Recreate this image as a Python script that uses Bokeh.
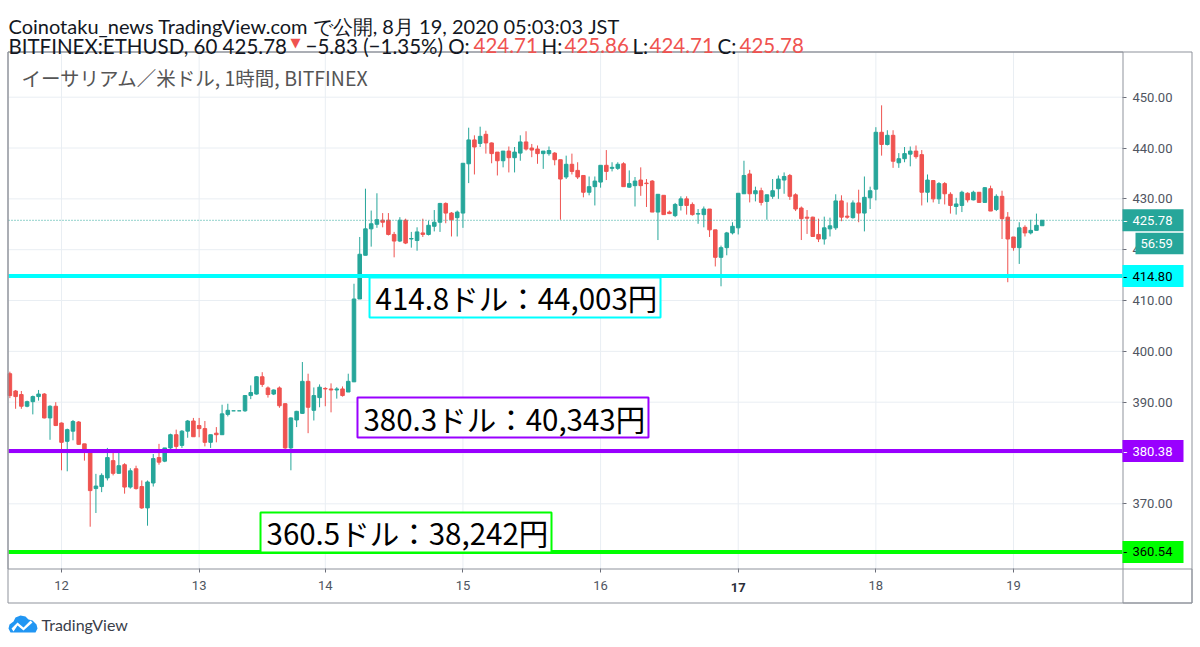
from bokeh.plotting import figure
from bokeh.models import (Range1d, Label, BoxAnnotation, PolyAnnotation,
                          PrintfTickFormatter, ColumnDataSource)
from bokeh.embed import file_html
from bokeh.resources import INLINE

# ---------------- data (1h candles, BITFINEX:ETHUSD, JST) ----------------
opens = [
    395.6, 392.2, 391.5, 389.2, 390.1, 391.1, 391.6, 386.9, 389.2, 385.9,
    382.3, 384.3, 386.1, 381.8, 380.5, 373.0, 373.4, 375.1, 378.5, 376.0,
    377.7, 373.3, 376.9, 373.4, 369.2, 374.1, 379.1, 378.4, 381.0, 383.6,
    381.5, 384.3, 386.3, 385.4, 384.8, 382.1, 383.9, 383.6, 387.6, 388.3,
    388.3, 388.3, 391.3, 391.6, 395.0, 392.8, 391.6, 392.8, 389.7, 381.0,
    386.5, 387.8, 394.1, 388.4, 390.9, 392.7, 392.6, 392.4, 392.6, 392.0,
    394.0, 410.3, 418.9, 424.1, 425.0, 425.8, 425.8, 423.0, 421.7, 425.8,
    422.1, 421.8, 423.3, 423.0, 424.6, 425.4, 429.1, 427.2, 426.3, 427.2,
    436.9, 441.6, 440.9, 442.7, 441.0, 439.2, 437.5, 439.4, 438.1, 439.0,
    441.2, 440.0, 439.8, 438.9, 438.9, 439.0, 437.7, 434.3, 436.8, 435.6,
    434.6, 431.3, 432.4, 433.3, 436.6, 436.0, 436.0, 436.9, 432.3, 432.6,
    433.7, 433.1, 433.5, 427.4, 430.7, 427.4, 426.7, 428.7, 430.0, 428.9,
    427.0, 426.9, 428.0, 423.9, 418.5, 420.4, 423.3, 424.3, 431.0, 434.9,
    431.0, 431.6, 429.5, 430.5, 432.0, 433.7, 434.6, 430.8, 428.2, 426.4,
    426.4, 423.0, 422.1, 424.1, 424.3, 429.6, 426.6, 426.3, 429.2, 427.2,
    430.2, 431.9, 443.1, 440.7, 442.5, 437.1, 437.9, 438.8, 439.4, 438.7,
    431.3, 433.6, 430.0, 433.0, 430.9, 428.5, 428.7, 431.1, 429.8, 431.3,
    429.3, 432.0, 427.9, 430.5, 426.4, 422.5, 420.4, 424.4, 423.3, 423.8,
    424.71]
highs = [
    396.0, 392.4, 392.2, 390.3, 391.3, 392.4, 391.8, 389.4, 390.0, 386.0,
    384.8, 386.5, 386.3, 381.8, 380.6, 375.9, 376.0, 381.0, 380.2, 380.0,
    378.0, 377.0, 377.5, 374.6, 374.6, 379.8, 381.8, 381.0, 383.8, 384.6,
    384.5, 386.5, 386.9, 386.9, 386.3, 383.6, 385.1, 389.5, 389.7, 388.3,
    388.3, 391.4, 393.3, 395.1, 395.9, 393.1, 392.5, 393.1, 389.8, 387.0,
    388.3, 397.9, 395.6, 392.9, 393.5, 392.95, 393.7, 392.95, 393.1, 395.6,
    413.3, 422.5, 432.0, 427.7, 431.1, 427.2, 427.2, 423.5, 426.4, 426.1,
    423.5, 424.4, 426.1, 425.7, 427.8, 429.2, 429.3, 427.4, 427.7, 437.0,
    444.0, 442.5, 444.2, 443.4, 441.1, 439.2, 439.4, 440.3, 440.2, 442.5,
    443.3, 440.8, 440.5, 439.4, 440.3, 439.2, 437.7, 438.5, 438.9, 437.2,
    434.6, 434.4, 434.4, 436.6, 439.6, 437.2, 437.2, 437.2, 435.6, 434.3,
    436.2, 433.9, 433.7, 430.9, 430.7, 427.7, 429.2, 430.5, 430.5, 429.3,
    428.0, 428.5, 428.0, 423.9, 420.8, 423.5, 425.4, 431.1, 437.5, 435.7,
    432.4, 432.2, 430.8, 433.9, 434.6, 435.2, 434.9, 431.1, 428.5, 427.8,
    426.5, 426.1, 426.5, 426.3, 430.9, 430.7, 429.3, 429.7, 431.8, 434.4,
    432.4, 444.1, 448.4, 443.5, 443.5, 439.0, 440.2, 440.3, 440.5, 439.6,
    434.8, 433.7, 433.3, 433.3, 431.3, 430.2, 431.6, 431.3, 431.6, 431.3,
    432.3, 432.6, 430.9, 431.6, 427.4, 422.5, 425.4, 424.8, 425.9, 427.1,
    425.86]
lows = [
    390.8, 388.7, 388.7, 389.0, 387.6, 390.3, 386.8, 382.6, 385.3, 376.6,
    376.4, 382.5, 381.6, 378.5, 365.5, 368.2, 372.3, 374.6, 375.6, 375.9,
    372.0, 373.0, 372.8, 369.0, 365.7, 373.4, 377.7, 378.2, 380.8, 380.8,
    381.0, 383.0, 383.2, 383.1, 381.3, 381.0, 382.1, 383.6, 387.2, 388.3,
    388.3, 388.1, 390.6, 391.5, 393.0, 390.9, 391.4, 388.9, 380.8, 376.6,
    385.1, 387.7, 383.9, 386.4, 389.0, 389.2, 388.0, 390.7, 391.1, 392.0,
    394.0, 410.3, 418.9, 420.6, 424.3, 424.4, 422.8, 418.5, 421.5, 421.1,
    420.4, 419.8, 422.5, 422.8, 423.6, 423.5, 425.2, 422.6, 422.6, 424.3,
    433.1, 434.8, 440.2, 438.9, 437.0, 434.6, 436.2, 435.2, 435.2, 437.5,
    439.5, 438.2, 436.9, 435.9, 438.5, 436.6, 425.9, 433.9, 434.8, 433.9,
    430.3, 430.7, 428.7, 432.2, 433.7, 435.4, 435.7, 432.4, 432.2, 428.5,
    430.6, 428.4, 427.4, 421.9, 426.9, 427.0, 426.4, 427.7, 426.9, 426.7,
    425.1, 424.4, 422.5, 416.7, 412.8, 418.9, 423.0, 423.0, 431.0, 429.3,
    429.5, 428.7, 425.9, 430.0, 430.0, 431.0, 429.8, 427.6, 421.9, 423.1,
    422.5, 421.5, 421.0, 422.6, 423.9, 425.6, 426.1, 426.1, 425.4, 423.6,
    428.0, 429.7, 438.5, 440.5, 436.1, 436.1, 437.2, 436.4, 437.9, 428.7,
    429.3, 429.3, 429.0, 428.9, 427.1, 426.9, 427.4, 429.3, 429.7, 429.2,
    429.2, 427.6, 427.6, 422.1, 413.6, 419.8, 417.2, 422.6, 423.0, 423.8,
    424.71]
closes = [
    391.3, 391.1, 389.2, 390.1, 391.1, 391.6, 386.9, 389.2, 385.4, 382.1,
    384.6, 386.2, 381.7, 380.5, 372.6, 373.5, 375.6, 379.1, 376.0, 377.5,
    373.3, 376.5, 373.0, 369.2, 374.3, 378.9, 378.2, 381.0, 383.6, 381.3,
    384.3, 386.3, 383.2, 384.8, 382.1, 383.6, 383.6, 387.7, 388.4, 388.3,
    388.3, 391.3, 391.9, 395.0, 393.5, 391.5, 392.4, 389.3, 381.0, 386.9,
    388.2, 394.1, 389.0, 391.3, 392.95, 392.6, 392.4, 392.6, 391.3, 394.1,
    410.3, 419.1, 424.1, 425.1, 425.9, 425.4, 423.0, 421.7, 425.8, 421.3,
    422.2, 423.5, 423.0, 424.8, 425.4, 429.1, 427.2, 425.9, 427.4, 437.0,
    441.6, 440.2, 442.3, 441.0, 438.9, 437.5, 439.4, 438.1, 439.2, 441.2,
    439.8, 439.6, 438.9, 439.4, 439.5, 437.7, 433.9, 436.8, 435.4, 434.3,
    431.3, 432.4, 433.5, 436.6, 435.4, 436.2, 436.8, 432.4, 433.0, 433.5,
    432.6, 433.0, 427.4, 430.9, 426.9, 427.1, 428.9, 430.0, 428.7, 426.9,
    427.1, 428.0, 423.9, 418.5, 420.4, 423.3, 424.6, 431.1, 434.6, 431.0,
    431.6, 429.3, 430.8, 431.6, 433.9, 434.4, 430.5, 428.0, 426.1, 426.2,
    422.6, 422.1, 424.3, 424.7, 429.6, 426.4, 426.4, 429.2, 427.2, 430.3,
    431.6, 443.1, 440.7, 442.5, 437.4, 437.9, 438.9, 439.4, 438.3, 431.3,
    433.7, 430.0, 433.0, 431.0, 428.7, 429.0, 431.3, 429.8, 431.3, 429.3,
    432.2, 427.6, 430.5, 426.1, 422.1, 420.4, 424.3, 423.3, 423.8, 424.8,
    425.78]

day_tick_bars = [9, 33, 55, 79, 103, 127, 151, 175]
day_tick_labels = ["12", "13", "14", "15", "16", "17", "18", "19"]
bold_day = "17"            # week start, printed bold
price_ticks = [370, 380, 390, 400, 410, 420, 430, 440, 450]

level_prices = [414.80, 380.38, 360.54]
level_colors = ["#00ffff", "#9900ff", "#00ff00"]
level_text_colors = ["#000000", "#ffffff", "#000000"]

note_texts = ["414.8ドル：44,003円", "380.3ドル：40,343円", "360.5ドル：38,242円"]
note_bar_pos = [62.71, 60.61, 43.70]      # left edge of each note (bar index)
note_price_top = [414.53, 390.92, 368.30]  # top edge of each note (USD)

countdown_text = "56:59"
header_line1 = "Coinotaku_news TradingView.com で公開, 8月 19, 2020 05:03:03 JST"
header_parts = [
    ("BITFINEX:ETHUSD, 60 425.78", "#131722", 8),
    ("▼", "#ef5350", 290),
    ("−5.83 (−1.35%) O:", "#131722", 305),
    ("424.71", "#ef5350", 473),
    ("H:", "#131722", 541),
    ("425.86", "#ef5350", 564),
    ("L:", "#131722", 632),
    ("424.71", "#ef5350", 649),
    ("C:", "#131722", 717),
    ("425.78", "#ef5350", 739),
]
watermark = "イーサリアム／米ドル, 1時間, BITFINEX"

# ---------------- layout calibration (pixels) ----------------
W, H = 1198, 645
PX_PER_BAR, PX_PER_USD = 5.735, 5.083
REF_BAR, REF_BAR_PX = 9, 61.0        # first bar of the 12th sits at x=61
REF_USD, REF_USD_PX = 450.0, 96.7    # 450.00 sits at y=96.7
PL, PR, PT, PB = 8, 1122, 51.5, 568   # plot area edges
BR, BB = 1191, 602                    # outer box right / bottom


def bar_at(px):
    return REF_BAR + (px - REF_BAR_PX) / PX_PER_BAR


def usd_at(py):
    return REF_USD - (py - REF_USD_PX) / PX_PER_USD


UP, DOWN = "#26a69a", "#ef5350"
GRID = "#e9eef3"
BORDER = "#8f939c"
TXT = "#4f5561"

p = figure(width=W, height=H, output_backend="svg", toolbar_location=None, title=None,
           x_range=Range1d(bar_at(0), bar_at(W)), y_range=Range1d(usd_at(H), usd_at(0)),
           y_axis_location="right", min_border=0)
p.background_fill_color = "white"
p.border_fill_color = "white"
p.outline_line_color = None
p.xgrid.visible = False
p.ygrid.visible = False

xa = p.xaxis[0]
xa.ticker = day_tick_bars
xa.major_label_overrides = {b: ("" if t == bold_day else t)
                            for b, t in zip(day_tick_bars, day_tick_labels)}
xa.fixed_location = usd_at(PB)
ya = p.yaxis[0]
ya.ticker = price_ticks
ya.formatter = PrintfTickFormatter(format="%.2f")
ya.fixed_location = bar_at(PR)
for ax, standoff in ((xa, 8), (ya, 6)):
    ax.major_tick_in = 0
    ax.major_tick_out = 4
    ax.minor_tick_line_color = None
    ax.major_tick_line_color = "#6a6d78"
    ax.axis_line_color = None
    ax.major_label_standoff = standoff
    ax.major_label_text_font = "Roboto"
    ax.major_label_text_font_size = "13px"
    ax.major_label_text_color = TXT

X0, X1 = bar_at(PL), bar_at(PR)
Y_TOP, Y_BOT = usd_at(PT), usd_at(PB)

# grid lines limited to the plot area
p.segment(x0=day_tick_bars, x1=day_tick_bars, y0=[Y_BOT] * len(day_tick_bars),
          y1=[Y_TOP] * len(day_tick_bars), line_color=GRID, line_width=1)
p.segment(x0=[X0] * len(price_ticks), x1=[X1] * len(price_ticks), y0=price_ticks,
          y1=price_ticks, line_color=GRID, line_width=1)

# ---------------- candles ----------------
idx = list(range(len(opens)))
src = ColumnDataSource(dict(
    x=idx, o=opens, h=highs, l=lows, c=closes,
    top=[max(o, c) for o, c in zip(opens, closes)],
    bottom=[min(o, c) for o, c in zip(opens, closes)],
    color=[UP if c >= o else DOWN for o, c in zip(opens, closes)],
))
p.segment(x0="x", y0="l", x1="x", y1="h", line_color="color", line_width=1, source=src)
p.vbar(x="x", width=0.62, top="top", bottom="bottom", fill_color="color",
       line_color="color", line_width=1, source=src)

# ---------------- horizontal levels ----------------
n = len(level_prices)
p.segment(x0=[X0] * n, x1=[X1] * n, y0=level_prices, y1=level_prices,
          line_color=level_colors, line_width=4)
p.segment(x0=[X0], x1=[X1], y0=[closes[-1]], y1=[closes[-1]], line_color=UP,
          line_width=1, line_dash="1 2")

# ---------------- chart box ----------------
for (l, r, t, b) in ((PL - 0.5, BR + 0.5, PT, BB + 0.5),
                     (PL - 0.5, PR + 0.5, PT, PB + 0.5),
                     (PR + 0.5, BR + 0.5, PB + 0.5, BB + 0.5)):
    p.add_layout(BoxAnnotation(left=l, right=r, top=t, bottom=b,
                               left_units="canvas", right_units="canvas",
                               top_units="canvas", bottom_units="canvas",
                               fill_color=None, fill_alpha=0, line_color=BORDER,
                               line_alpha=1, line_width=1))

# bold week-start day label
for b, t in zip(day_tick_bars, day_tick_labels):
    if t == bold_day:
        p.add_layout(Label(x=b, y=586.5, y_units="canvas", text=t, text_align="center",
                           text_baseline="middle", text_font="Roboto",
                           text_font_size="13px", text_font_style="bold",
                           text_color="#2a2e39"))

# ---------------- price tags ----------------
half = 11.0 / PX_PER_USD
tag_prices = [closes[-1]] + level_prices
tag_colors = [UP] + level_colors
tag_text_colors = ["#ffffff"] + level_text_colors
for price, bg, fg in zip(tag_prices, tag_colors, tag_text_colors):
    p.add_layout(BoxAnnotation(left=PR, right=PR + 61, left_units="canvas",
                               right_units="canvas", top=price + half,
                               bottom=price - half, fill_color=bg, fill_alpha=1,
                               line_color=None))
    p.add_layout(Label(x=PR + 1, y=price, x_units="canvas", text="-",
                       text_baseline="middle", text_color=fg,
                       text_font="Roboto", text_font_size="13px"))
    p.add_layout(Label(x=PR + 10, y=price, x_units="canvas", text=f"{price:.2f}",
                       text_baseline="middle", text_align="left", text_color=fg,
                       text_font="Roboto", text_font_size="13px"))
cd_top = closes[-1] - (half + 1.5 / PX_PER_USD)
cd_bot = cd_top - 21.5 / PX_PER_USD
p.add_layout(BoxAnnotation(left=PR + 13, right=PR + 61, left_units="canvas",
                           right_units="canvas", top=cd_top, bottom=cd_bot,
                           fill_color=UP, fill_alpha=1, line_color=None))
p.add_layout(Label(x=PR + 18, y=(cd_top + cd_bot) / 2, x_units="canvas",
                   text=countdown_text, text_baseline="middle", text_color="#ffffff",
                   text_font="Roboto", text_font_size="13px"))

# ---------------- text notes ----------------
note_w = 291 / PX_PER_BAR
note_h = 40 / PX_PER_USD
for t, bx, py, col in zip(note_texts, note_bar_pos, note_price_top, level_colors):
    p.add_layout(BoxAnnotation(left=bx, right=bx + note_w, top=py, bottom=py - note_h,
                               fill_color="white", fill_alpha=1, line_color=col,
                               line_alpha=1, line_width=2))
    p.add_layout(Label(x=bx + 6 / PX_PER_BAR, y=py - note_h / 2, text=t,
                       text_align="left", text_baseline="middle",
                       text_font="Noto Sans CJK JP", text_font_size="29.5px",
                       text_color="#000000"))

# ---------------- header / watermark / logo ----------------
p.add_layout(Label(x=8, y=25, x_units="canvas", y_units="canvas", text=header_line1,
                   text_baseline="alphabetic", text_font="Lato",
                   text_font_size="20px", text_color="#131722"))
for t, col, x in header_parts:
    small = (t == "▼")
    p.add_layout(Label(x=x, y=42 if small else 45, x_units="canvas",
                       y_units="canvas", text=t, text_baseline="alphabetic",
                       text_font="DejaVu Sans" if small else "Lato",
                       text_font_size="13px" if small else "20.5px", text_color=col))
p.add_layout(Label(x=21, y=77, x_units="canvas", y_units="canvas", text=watermark,
                   text_baseline="middle", text_font="Noto Sans CJK JP",
                   text_font_size="19.5px", text_color="#555555"))

cloud_x = [10, 8, 9, 13, 15, 20, 25, 28, 32, 36, 37, 35]
cloud_y = [632, 628, 624, 621, 617, 615, 616, 619, 620, 624, 628, 632]
p.add_layout(PolyAnnotation(xs=cloud_x, ys=cloud_y, xs_units="canvas", ys_units="canvas",
                            fill_color="#2196f3", fill_alpha=1, line_color=None))
zig_x = [11, 17, 23, 30, 32, 23, 17, 13]
zig_y = [628, 622, 627, 620, 622, 630, 625, 631]
p.add_layout(PolyAnnotation(xs=zig_x, ys=zig_y, xs_units="canvas", ys_units="canvas",
                            fill_color="white", fill_alpha=1, line_color=None))
p.add_layout(Label(x=41, y=624, x_units="canvas", y_units="canvas", text="TradingView",
                   text_baseline="middle", text_font="Lato",
                   text_font_size="16px", text_color="#3a3e4a"))

open("out.html", "w").write(file_html(p, INLINE))
